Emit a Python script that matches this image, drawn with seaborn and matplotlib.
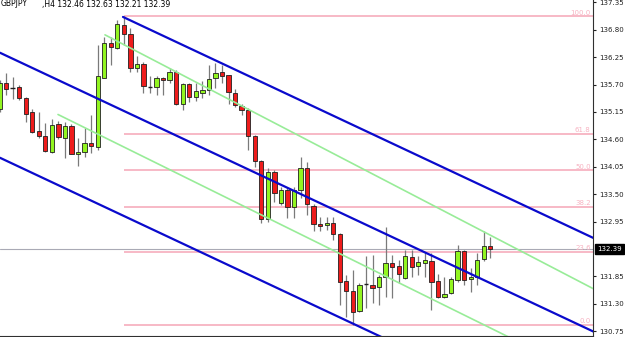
import numpy as np
import pandas as pd
import matplotlib
matplotlib.use("Agg")
import matplotlib.pyplot as plt
import matplotlib.transforms as mtransforms
import seaborn as sns

# ---------------- data ----------------
symbol = "GBPJPY"
header = ",H4 132.46 132.63 132.21 132.39"
last_price = 132.39

opens = [135.21, 135.73, 135.63, 135.65, 135.44, 135.16, 134.76, 134.67, 134.35, 134.90,
         134.62, 134.86, 134.31, 134.34, 134.53, 134.45, 135.84, 136.53, 136.43, 136.90,
         136.72, 136.03, 136.11, 135.66, 135.65, 135.84, 135.79, 135.96, 135.31, 135.71,
         135.46, 135.53, 135.59, 135.83, 135.96, 135.89, 135.54, 135.28, 135.19, 134.66,
         134.17, 133.00, 133.95, 133.32, 133.59, 133.25, 133.59, 134.02, 133.27, 132.90,
         132.87, 132.93, 132.70, 131.76, 131.56, 131.15, 131.69, 131.68, 131.64, 131.83,
         132.12, 132.06, 131.81, 132.23, 132.06, 132.11, 132.16, 131.76, 131.43, 131.51,
         131.78, 132.35, 131.79, 131.83, 132.19, 132.46]
highs = [135.79, 135.93, 135.85, 135.69, 135.46, 135.21, 135.16, 134.93, 135.01, 134.96,
         134.94, 134.90, 134.63, 134.82, 135.09, 136.50, 136.66, 136.65, 137.00, 137.07,
         136.83, 136.28, 136.16, 135.87, 135.87, 135.86, 136.03, 135.99, 135.73, 135.73,
         135.73, 135.77, 136.09, 136.13, 136.09, 135.90, 135.61, 135.31, 135.23, 134.69,
         134.19, 134.02, 133.99, 133.65, 133.62, 133.65, 134.25, 134.14, 133.30, 133.05,
         133.05, 133.05, 132.71, 131.88, 131.98, 131.71, 132.25, 132.28, 131.88, 132.83,
         132.28, 132.18, 132.38, 132.38, 132.25, 132.33, 132.31, 131.89, 131.84, 131.84,
         132.48, 132.38, 132.01, 132.31, 132.75, 132.63]
lows = [135.15, 135.49, 135.41, 135.39, 134.94, 134.73, 134.62, 134.35, 134.33, 134.60,
        134.22, 134.30, 134.07, 134.24, 134.33, 134.39, 135.83, 136.09, 136.42, 136.50,
        135.96, 135.96, 135.53, 135.53, 135.49, 135.49, 135.73, 135.29, 135.19, 135.36,
        135.37, 135.44, 135.49, 135.63, 135.73, 135.31, 135.26, 135.09, 134.39, 134.05,
        132.92, 132.95, 133.35, 133.28, 133.02, 133.02, 133.42, 133.08, 132.75, 132.75,
        132.78, 132.58, 131.28, 131.04, 130.88, 131.14, 131.21, 131.31, 131.28, 131.43,
        131.41, 131.71, 131.79, 131.84, 131.88, 131.84, 131.18, 131.41, 131.41, 131.49,
        131.74, 131.68, 131.54, 131.68, 132.16, 132.21]
closes = [135.73, 135.61, 135.63, 135.43, 135.11, 134.74, 134.66, 134.37, 134.89, 134.64,
          134.87, 134.31, 134.35, 134.52, 134.47, 135.87, 136.53, 136.46, 136.92, 136.72,
          136.03, 136.11, 135.67, 135.66, 135.83, 135.79, 135.96, 135.31, 135.71, 135.46,
          135.58, 135.59, 135.81, 135.94, 135.88, 135.55, 135.29, 135.19, 134.66, 134.17,
          133.00, 133.94, 133.52, 133.59, 133.25, 133.59, 134.02, 133.30, 132.90, 132.85,
          132.93, 132.70, 131.74, 131.56, 131.14, 131.68, 131.69, 131.62, 131.84, 132.11,
          132.04, 131.89, 132.25, 132.04, 132.13, 132.17, 131.74, 131.43, 131.49, 131.79,
          132.35, 131.78, 131.83, 132.18, 132.45, 132.39]

# Fibonacci retracement (high -> low) and levels
fib_high = 137.07
fib_low = 130.88
fib_start = 19
fib_levels = [0.0, 23.6, 38.2, 50.0, 61.8, 100.0]

# channel lines: (start bar, start price, end bar, end price)
channel_names = ["upper_blue", "middle_blue", "lower_blue", "upper_green", "lower_green"]
channel_x0 = [18.87, 0.08, 0.08, 16.12, 8.94]
channel_p0 = [137.06, 136.34, 134.23, 136.70, 135.10]
channel_x1 = [90.74, 90.74, 90.74, 90.74, 90.74]
channel_p1 = [132.62, 130.74, 128.63, 131.60, 129.79]

y_ticks = [137.35, 136.80, 136.25, 135.70, 135.15, 134.60, 134.05, 133.50,
           132.95, 131.85, 131.30, 130.75]
x_ticks = [8, 16, 24, 32, 40, 48, 56, 64, 72, 80, 88]

# ---------------- style ----------------
sns.set_theme(style="white")
plt.rcParams["font.family"] = ["DejaVu Sans"]

W, H = 625, 337
fig = plt.figure(figsize=(W / 100, H / 100), dpi=100)
fig.patch.set_facecolor("white")
ax = fig.add_axes([0, 1.5 / H, 593.3 / W, 335.5 / H])
ax.set_facecolor("white")

XMIN, XMAX = 0.076, 90.74
YMIN, YMAX = 130.66, 137.40

GREEN = "#92f520"
RED = "#ee1c1c"
PINK = "#f7b3c2"
BLUE = "#0a0acc"
LGREEN = "#98ec98"

df = pd.DataFrame({"o": opens, "h": highs, "l": lows, "c": closes})
df["x"] = np.arange(len(df))

# current price line
ax.axhline(last_price, color="#a9aab5", lw=0.8, zorder=1)

# fibonacci levels
for lvl in fib_levels:
    p = fib_low + (fib_high - fib_low) * lvl / 100.0
    ax.hlines(p, fib_start, XMAX, color=PINK, lw=1.3, zorder=1.5)
    ax.text(90.35, p + 0.015, f"{lvl:.1f}", ha="right", va="bottom",
            color=PINK, fontsize=5, zorder=2)

# wicks
ax.vlines(df["x"], df["l"], df["h"], color="#7a7a7a", lw=0.9, zorder=3)

# bodies
up = df[df["c"] > df["o"]]
dn = df[df["c"] < df["o"]]
dj = df[df["c"] == df["o"]]
bw = 0.66
ax.bar(up["x"], up["c"] - up["o"], bottom=up["o"], width=bw, color=GREEN,
       edgecolor="#202020", linewidth=0.6, zorder=4)
ax.bar(dn["x"], dn["o"] - dn["c"], bottom=dn["c"], width=bw, color=RED,
       edgecolor="#202020", linewidth=0.6, zorder=4)
ax.hlines(dj["o"], dj["x"] - bw / 2, dj["x"] + bw / 2, color="#202020", lw=1.0, zorder=4)

# channel lines via seaborn
for name, x0, p0, x1, p1 in zip(channel_names, channel_x0, channel_p0, channel_x1, channel_p1):
    seg = pd.DataFrame({"x": [x0, x1], "p": [p0, p1]})
    is_blue = "blue" in name
    sns.lineplot(data=seg, x="x", y="p", ax=ax, color=BLUE if is_blue else LGREEN,
                 linewidth=1.6 if is_blue else 1.2, zorder=5, legend=False)

ax.set_xlim(XMIN, XMAX)
ax.set_ylim(YMIN, YMAX)
ax.set_xlabel("")
ax.set_ylabel("")

# axes/ticks
for s in ["left", "top"]:
    ax.spines[s].set_visible(False)
for s in ["right", "bottom"]:
    ax.spines[s].set_visible(True)
    ax.spines[s].set_color("#303030")
    ax.spines[s].set_linewidth(0.8)

ax.yaxis.tick_right()
ax.set_yticks(y_ticks)
ax.set_yticklabels([f"{v:.2f}" for v in y_ticks])
ax.tick_params(axis="y", which="both", right=True, left=False, direction="out",
               length=2.5, width=0.8, pad=1.5, labelsize=5, colors="#202020")
ax.set_xticks(x_ticks)
ax.set_xticklabels([])
ax.tick_params(axis="x", which="both", bottom=True, direction="out",
               length=2, width=0.8, colors="#505050")
ax.grid(False)

# last price box
trans = mtransforms.blended_transform_factory(ax.transAxes, ax.transData)
ax.text(1.0 + 3.5 / 593.3, last_price, f"{last_price:.2f}", transform=trans,
        ha="left", va="center", fontsize=5, color="white", clip_on=False,
        bbox=dict(boxstyle="square,pad=0.3", fc="black", ec="black"))

# header
fig.text(1 / W, 1 - 6.5 / H, symbol, fontsize=5.5, color="black", va="baseline", ha="left")
fig.text(42 / W, 1 - 6.5 / H, header, fontsize=5.5, color="black", va="baseline", ha="left")

fig.savefig("out.png", dpi=100, facecolor="white")
